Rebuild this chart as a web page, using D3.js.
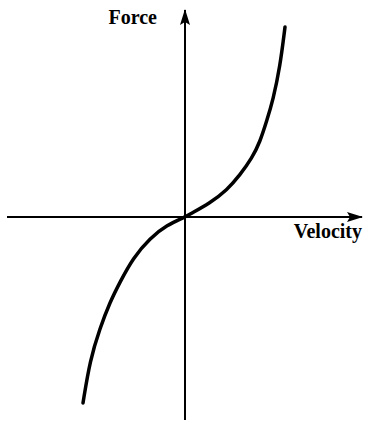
<html>

<head>
  <script src="https://d3js.org/d3.v7.min.js"></script>
  <style>
    body {
      margin: 0;
      background-color: white;
    }
    .label {
      font-family: "Liberation Serif", "DejaVu Serif", serif;
      font-weight: bold;
      font-size: 20px;
      fill: black;
    }
  </style>
</head>

<body>
  <svg id="chart" width="365" height="422"></svg>
  <script>
    // points (arbitrary units, origin at the axes crossing)
    const velocity = [-10.2, -9.5, -8.5, -7.5, -6.5, -5.2, -3.5, -1.8, 0, 0.5, 2.5, 4.2, 5.5, 6.7, 7.5, 8.2, 8.8, 9.5, 10];
    const force = [-18.6, -14.3, -11.1, -8.5, -6.5, -4.1, -2.1, -0.8, 0, 0.3, 1.4, 2.7, 4.2, 5.9, 7.5, 9.7, 11.7, 15, 19];
    const axisLabels = ["Velocity", "Force"];

    let svg = d3.select("svg#chart");

    const xScale = d3.scaleLinear().domain([-18, 18]).range([5, 365]);
    const yScale = d3.scaleLinear().domain([-20, 21]).range([417, 7]);

    let defs = svg.append("defs");
    defs.append("marker")
      .attr("id", "arrow")
      .attr("viewBox", "0 0 16 10")
      .attr("refX", 15)
      .attr("refY", 5)
      .attr("markerWidth", 16)
      .attr("markerHeight", 10)
      .attr("markerUnits", "userSpaceOnUse")
      .attr("orient", "auto")
      .append("path")
      .attr("d", "M0,0 L16,5 L0,10 L3,5 Z")
      .style("fill", "black");

    // horizontal axis (velocity)
    svg.append("line")
      .attr("x1", xScale(-17.8))
      .attr("x2", xScale(17.7))
      .attr("y1", yScale(0))
      .attr("y2", yScale(0))
      .style("stroke", "black")
      .style("stroke-width", 2)
      .attr("marker-end", "url(#arrow)");

    // vertical axis (force)
    svg.append("line")
      .attr("x1", xScale(0))
      .attr("x2", xScale(0))
      .attr("y1", yScale(-20.3))
      .attr("y2", yScale(20.7))
      .style("stroke", "black")
      .style("stroke-width", 2)
      .attr("marker-end", "url(#arrow)");

    const points = velocity.map((v, i) => [v, force[i]]);
    const line = d3.line()
      .x(d => xScale(d[0]))
      .y(d => yScale(d[1]))
      .curve(d3.curveBasis);

    svg.append("path")
      .datum(points)
      .attr("d", line)
      .style("fill", "none")
      .style("stroke", "black")
      .style("stroke-width", 3.5)
      .style("stroke-linecap", "round");

    svg.append("text")
      .attr("class", "label")
      .attr("x", xScale(17.7))
      .attr("y", yScale(-2.1))
      .attr("text-anchor", "end")
      .text(axisLabels[0]);

    svg.append("text")
      .attr("class", "label")
      .attr("x", xScale(-2.8))
      .attr("y", yScale(19.3))
      .attr("text-anchor", "end")
      .text(axisLabels[1]);
  </script>
</body>

</html>
